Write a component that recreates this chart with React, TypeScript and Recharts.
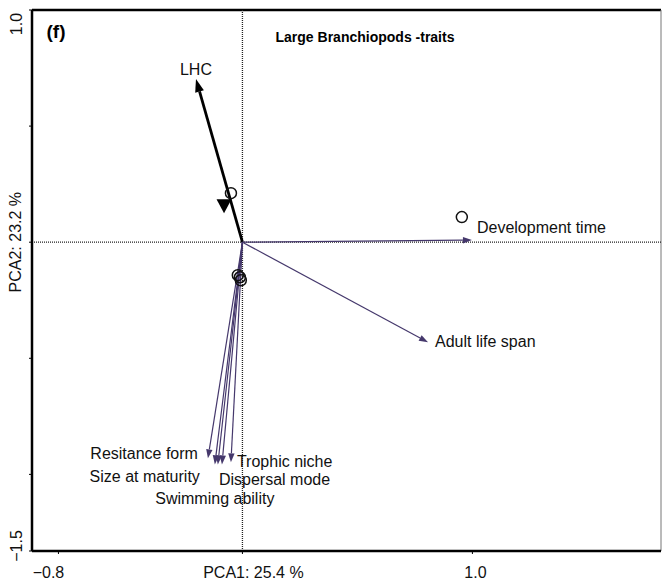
import React from 'react';
import { ScatterChart, Scatter, XAxis, YAxis, ReferenceLine } from 'recharts';

// axis ranges and ticks (PCA scores)
const xDomain = [-0.915, 1.82];
const yDomain = [-1.33, 1.0];
const xTicks = [-0.8, 0, 1.0];
const xTickLabels = ['\u22120.8', 'PCA1: 25.4 %', '1.0'];
const yTicks = [1.0, 0.5, 0, -0.5, -1.0, -1.33];
const yTickLabels = ['1.0', '', 'PCA2: 23.2 %', '', '', '\u22121.5'];

// trait vectors
const traitNames = ['LHC', 'Development time', 'Adult life span', 'Resitance form', 'Size at maturity', 'Swimming ability', 'Dispersal mode', 'Trophic niche'];
const traitX = [-0.202, 0.998, 0.807, -0.15, -0.12, -0.107, -0.089, -0.05];
const traitY = [0.703, 0.009, -0.431, -0.931, -0.957, -0.957, -0.957, -0.948];

// open circles
const siteX = [-0.05, 0.954, -0.02, -0.011, -0.007];
const siteY = [0.211, 0.108, -0.142, -0.151, -0.164];

// filled triangle
const centroidX = [-0.08];
const centroidY = [0.155];

const VEC = '#45386c';

// label placement relative to the arrow tip (px)
const labelPos: Record<string, { dx: number; dy: number; anchor: 'start' | 'middle' | 'end' }> = {
  'LHC': { dx: 0, dy: -4, anchor: 'middle' },
  'Development time': { dx: 5, dy: -7, anchor: 'start' },
  'Adult life span': { dx: 7, dy: 5, anchor: 'start' },
  'Resitance form': { dx: -10, dy: 1, anchor: 'end' },
  'Size at maturity': { dx: -15, dy: 18, anchor: 'end' },
  'Swimming ability': { dx: -3, dy: 40, anchor: 'middle' },
  'Dispersal mode': { dx: -3, dy: 21, anchor: 'start' },
  'Trophic niche': { dx: 6, dy: 5, anchor: 'start' },
};

const xTickOffset: Record<number, number> = { [-0.8]: -10, 0: 11, 1: 3 };

const makeArrow = (name: string, color: string, width: number, headLen: number, headHalf: number) => (props: any) => {
  const { x1, y1, x2, y2 } = props;
  const a = Math.atan2(y2 - y1, x2 - x1);
  const bx = x2 - headLen * Math.cos(a);
  const by = y2 - headLen * Math.sin(a);
  const px = -Math.sin(a) * headHalf;
  const py = Math.cos(a) * headHalf;
  const s = labelPos[name];
  return (
    <g>
      <line x1={x1} y1={y1} x2={bx} y2={by} stroke={color} strokeWidth={width} />
      <polygon points={`${x2},${y2} ${bx + px},${by + py} ${bx - px},${by - py}`} fill={color} />
      <text x={x2 + s.dx} y={y2 + s.dy} textAnchor={s.anchor} fontSize={16} fill="#111">{name}</text>
    </g>
  );
};

const XTick = (p: any) => {
  const { x, y, payload } = p;
  const i = xTicks.indexOf(payload.value);
  const label = xTickLabels[i];
  if (!label) return <g />;
  return (
    <text x={x + (xTickOffset[payload.value] || 0)} y={y + 22} textAnchor="middle" fontSize={16} fill="#111">{label}</text>
  );
};

const YTick = (p: any) => {
  const { y, payload } = p;
  const i = yTicks.indexOf(payload.value);
  const label = yTickLabels[i];
  if (!label) return <g />;
  let cy = y;
  if (payload.value === yDomain[1]) cy = y + 14;
  if (payload.value === yDomain[0]) cy = y - 5;
  return (
    <text x={16} y={cy} transform={`rotate(-90 16 ${cy})`} textAnchor="middle" dominantBaseline="central" fontSize={16} fill="#111">{label}</text>
  );
};

const sites = siteX.map((x, i) => ({ x, y: siteY[i] }));
const centroids = centroidX.map((x, i) => ({ x, y: centroidY[i] }));

export default function App() {
  return (
    <div style={{ position: 'absolute', left: 0, top: 0, fontFamily: '"Liberation Sans", Arial, sans-serif' }}>
      <ScatterChart width={662} height={581} margin={{ top: 10, right: 1, bottom: 0, left: 0 }}>
        <XAxis type="number" dataKey="x" domain={xDomain} ticks={xTicks} interval={0} allowDataOverflow
          axisLine={{ stroke: '#000', strokeWidth: 2.5 }} tickLine={{ stroke: '#000' }} tickSize={3} height={30} tick={<XTick />} />
        <YAxis type="number" dataKey="y" domain={yDomain} ticks={yTicks} interval={0} allowDataOverflow
          axisLine={{ stroke: '#000', strokeWidth: 2.5 }} tickLine={{ stroke: '#000' }} tickSize={3} width={32} tick={<YTick />} />
        <ReferenceLine y={yDomain[1]} stroke="#000" strokeWidth={2.5} />
        <ReferenceLine x={xDomain[1]} stroke="#777" strokeWidth={1} />
        <ReferenceLine x={0} stroke="#222" strokeWidth={1.3} strokeDasharray="1 1" />
        <ReferenceLine y={0} stroke="#222" strokeWidth={1.3} strokeDasharray="1 1" />
        {traitNames.map((n, i) => (
          <ReferenceLine key={n} segment={[{ x: 0, y: 0 }, { x: traitX[i], y: traitY[i] }]}
            shape={n === 'LHC' ? makeArrow(n, '#000', 2.8, 13, 4.5) : makeArrow(n, VEC, 1.2, 9, 3.2)} />
        ))}
        <Scatter data={sites} isAnimationActive={false}
          shape={(p: any) => <circle cx={p.cx} cy={p.cy} r={5.5} fill="none" stroke="#111" strokeWidth={1.5} />} />
        <Scatter data={centroids} isAnimationActive={false}
          shape={(p: any) => <polygon points={`${p.cx - 7.5},${p.cy - 7} ${p.cx + 7.5},${p.cy - 7} ${p.cx},${p.cy + 7}`} fill="#000" />} />
        <text x={56} y={38} textAnchor="middle" fontSize={19} fontWeight="bold" fill="#000">(f)</text>
        <text x={365} y={42} textAnchor="middle" fontSize={14} fontWeight="bold" fill="#000">Large Branchiopods -traits</text>
      </ScatterChart>
    </div>
  );
}
